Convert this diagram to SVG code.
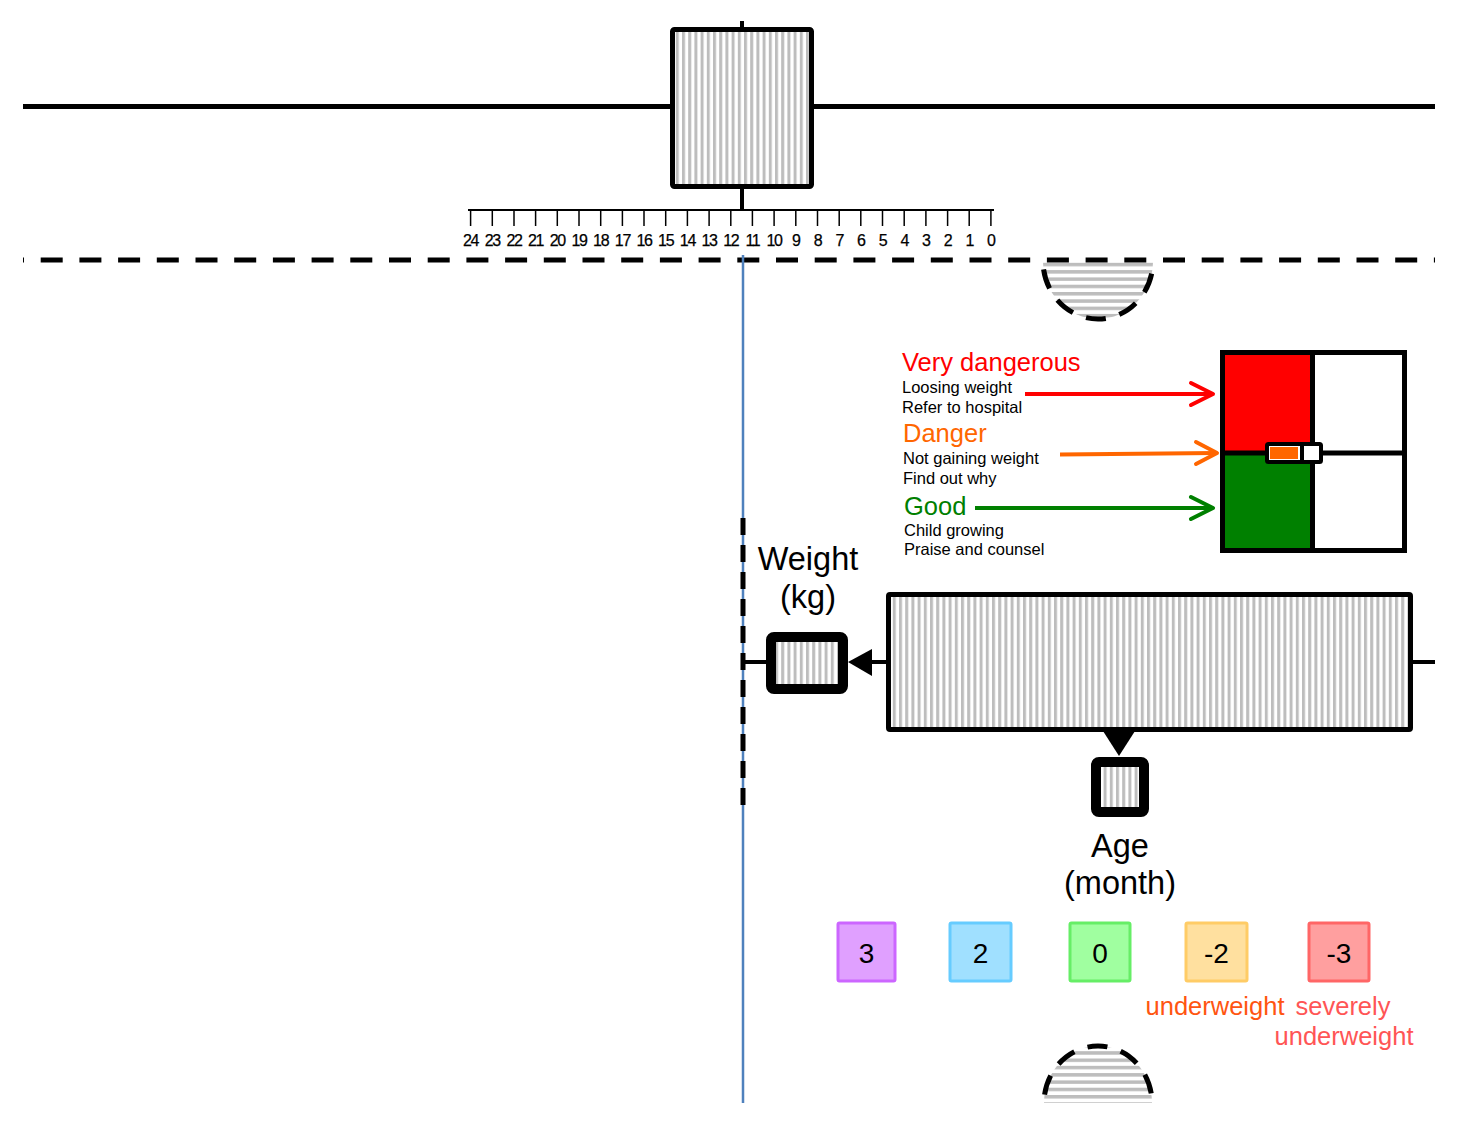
<svg xmlns="http://www.w3.org/2000/svg" width="1457" height="1125" viewBox="0 0 1457 1125">
<style>
text{font-family:"Liberation Sans",Arial,sans-serif;}
.blk{stroke:#000;fill:none;}
.tick{stroke:#000;stroke-width:1.5;}
.rl{font-size:16px;text-anchor:middle;fill:#000;letter-spacing:-1.3px;stroke:#000;stroke-width:0.25px;}
.sm{font-size:16.5px;fill:#000;}
.hd{font-size:25.5px;}
.big{font-size:32.5px;text-anchor:middle;fill:#000;}
.num{font-size:28px;text-anchor:middle;fill:#000;}
.lbl{font-size:25.5px;text-anchor:middle;}
</style>
<defs>
<pattern id="vh" width="6.2" height="10" patternUnits="userSpaceOnUse"><rect width="6.2" height="10" fill="#fff"/><rect width="3" height="10" fill="#bdbdbd"/></pattern>
<pattern id="hh" width="10" height="7.3" patternUnits="userSpaceOnUse"><rect width="10" height="7.3" fill="#fff"/><rect width="10" height="3.5" fill="#bdbdbd"/></pattern>
</defs>
<rect width="1457" height="1125" fill="#fff"/>

<g id="top-rail">
<line x1="23" y1="106.5" x2="1435" y2="106.5" class="blk" stroke-width="5"/>
</g>
<g id="top-box">
<line x1="742" y1="21" x2="742" y2="30" class="blk" stroke-width="4"/>
<line x1="742" y1="186" x2="742" y2="210" class="blk" stroke-width="4"/>
<rect x="672.5" y="29.5" width="139" height="157" fill="url(#vh)" stroke="#000" stroke-width="5" rx="2"/>
</g>
<g id="ruler">
<line x1="468" y1="210" x2="994" y2="210" class="blk" stroke-width="2"/>
<g class="ticks">
<line x1="470.6" y1="210" x2="470.6" y2="226" class="tick"/>
<line x1="492.3" y1="210" x2="492.3" y2="226" class="tick"/>
<line x1="514.0" y1="210" x2="514.0" y2="226" class="tick"/>
<line x1="535.6" y1="210" x2="535.6" y2="226" class="tick"/>
<line x1="557.3" y1="210" x2="557.3" y2="226" class="tick"/>
<line x1="579.0" y1="210" x2="579.0" y2="226" class="tick"/>
<line x1="600.7" y1="210" x2="600.7" y2="226" class="tick"/>
<line x1="622.4" y1="210" x2="622.4" y2="226" class="tick"/>
<line x1="644.0" y1="210" x2="644.0" y2="226" class="tick"/>
<line x1="665.7" y1="210" x2="665.7" y2="226" class="tick"/>
<line x1="687.4" y1="210" x2="687.4" y2="226" class="tick"/>
<line x1="709.1" y1="210" x2="709.1" y2="226" class="tick"/>
<line x1="730.8" y1="210" x2="730.8" y2="226" class="tick"/>
<line x1="752.4" y1="210" x2="752.4" y2="226" class="tick"/>
<line x1="774.1" y1="210" x2="774.1" y2="226" class="tick"/>
<line x1="795.8" y1="210" x2="795.8" y2="226" class="tick"/>
<line x1="817.5" y1="210" x2="817.5" y2="226" class="tick"/>
<line x1="839.2" y1="210" x2="839.2" y2="226" class="tick"/>
<line x1="860.8" y1="210" x2="860.8" y2="226" class="tick"/>
<line x1="882.5" y1="210" x2="882.5" y2="226" class="tick"/>
<line x1="904.2" y1="210" x2="904.2" y2="226" class="tick"/>
<line x1="925.9" y1="210" x2="925.9" y2="226" class="tick"/>
<line x1="947.6" y1="210" x2="947.6" y2="226" class="tick"/>
<line x1="969.2" y1="210" x2="969.2" y2="226" class="tick"/>
<line x1="990.9" y1="210" x2="990.9" y2="226" class="tick"/>
</g>
<g class="rlabels">
<text x="470.6" y="246" class="rl">24</text>
<text x="492.3" y="246" class="rl">23</text>
<text x="514.0" y="246" class="rl">22</text>
<text x="535.6" y="246" class="rl">21</text>
<text x="557.3" y="246" class="rl">20</text>
<text x="579.0" y="246" class="rl">19</text>
<text x="600.7" y="246" class="rl">18</text>
<text x="622.4" y="246" class="rl">17</text>
<text x="644.0" y="246" class="rl">16</text>
<text x="665.7" y="246" class="rl">15</text>
<text x="687.4" y="246" class="rl">14</text>
<text x="709.1" y="246" class="rl">13</text>
<text x="730.8" y="246" class="rl">12</text>
<text x="752.4" y="246" class="rl">11</text>
<text x="774.1" y="246" class="rl">10</text>
<text x="795.8" y="246" class="rl">9</text>
<text x="817.5" y="246" class="rl">8</text>
<text x="839.2" y="246" class="rl">7</text>
<text x="860.8" y="246" class="rl">6</text>
<text x="882.5" y="246" class="rl">5</text>
<text x="904.2" y="246" class="rl">4</text>
<text x="925.9" y="246" class="rl">3</text>
<text x="947.6" y="246" class="rl">2</text>
<text x="969.2" y="246" class="rl">1</text>
<text x="990.9" y="246" class="rl">0</text>
</g>
</g>

<g id="top-bowl">
<path d="M1043,261 A55,58 0 0 0 1153,261 Z" fill="url(#hh)"/>
<path d="M1043,261 A55,58 0 0 0 1153,261" class="blk" stroke-width="5" stroke-dasharray="20 14" stroke-dashoffset="-8.5"/>
</g>
<g id="dashed-rail">
<line x1="23" y1="260" x2="1435" y2="260" class="blk" stroke-width="5" stroke-dasharray="22 16.7" stroke-dashoffset="21"/>
</g>
<g id="bottom-dome">
<path d="M1044,1103 A54,57 0 0 1 1152,1103 Z" fill="url(#hh)"/>
<path d="M1044,1103 A54,57 0 0 1 1152,1103" class="blk" stroke-width="5" stroke-dasharray="20 14" stroke-dashoffset="-8.5"/>
</g>

<g id="blue-line">
<line x1="743" y1="255" x2="743" y2="1103" stroke="#4f81bd" stroke-width="2.5"/>
</g>
<g id="weight-axis">
<line x1="743" y1="518" x2="743" y2="808" class="blk" stroke-width="5" stroke-dasharray="17 10"/>
</g>

<g id="legend-text">
<text x="902" y="371" class="hd" fill="#ff0000">Very dangerous</text>
<text x="902" y="393" class="sm">Loosing weight</text>
<text x="902" y="413" class="sm">Refer to hospital</text>
<text x="903" y="442" class="hd" fill="#ff6600">Danger</text>
<text x="903" y="464" class="sm">Not gaining weight</text>
<text x="903" y="484" class="sm">Find out why</text>
<text x="904" y="515" class="hd" fill="#008000">Good</text>
<text x="904" y="536" class="sm">Child growing</text>
<text x="904" y="555" class="sm">Praise and counsel</text>
</g>

<g id="status-box">
<rect x="1222.5" y="352.5" width="90" height="100" fill="#ff0000"/>
<rect x="1222.5" y="453" width="90" height="98" fill="#008000"/>
<rect x="1222.5" y="352.5" width="182" height="198" fill="none" stroke="#000" stroke-width="5"/>
<line x1="1312.5" y1="352" x2="1312.5" y2="551" class="blk" stroke-width="5"/>
<line x1="1222" y1="453" x2="1405" y2="453" class="blk" stroke-width="5"/>
<rect x="1267" y="444" width="54" height="18" fill="#fff" stroke="#000" stroke-width="4" rx="1.5"/>
<rect x="1270" y="447" width="28" height="12" fill="#ff6600"/>
<line x1="1302" y1="444" x2="1302" y2="462" class="blk" stroke-width="4"/>
</g>

<g id="weight-box">
<rect x="771" y="637" width="72" height="52" rx="3" fill="url(#vh)" stroke="#000" stroke-width="10"/>
</g>
<g id="weight-label">
<text x="808" y="570" class="big">Weight</text>
<text x="808" y="608" class="big">(kg)</text>
</g>

<g id="main-box">
<rect x="888.5" y="594.5" width="522" height="135" fill="url(#vh)" stroke="#000" stroke-width="5" rx="1.5"/>
</g>

<g id="age-box">
<rect x="1096" y="762" width="48" height="50" rx="3" fill="url(#vh)" stroke="#000" stroke-width="10"/>
</g>
<g id="age-label">
<text x="1120" y="857" class="big">Age</text>
<text x="1120" y="894" class="big">(month)</text>
</g>

<g id="connectors">
<line x1="1025" y1="394" x2="1212" y2="394" stroke="#ff0000" stroke-width="4"/>
<polyline points="1191,383 1213,394 1191,405" fill="none" stroke="#ff0000" stroke-width="4" stroke-linecap="round" stroke-linejoin="round"/>
<line x1="1060" y1="454.5" x2="1216" y2="453" stroke="#ff6600" stroke-width="4"/>
<polyline points="1196,442 1217,453 1196,464" fill="none" stroke="#ff6600" stroke-width="4" stroke-linecap="round" stroke-linejoin="round"/>
<line x1="975" y1="508" x2="1212" y2="508" stroke="#008000" stroke-width="4"/>
<polyline points="1191,497 1213,508 1191,519" fill="none" stroke="#008000" stroke-width="4" stroke-linecap="round" stroke-linejoin="round"/>
<line x1="1321" y1="453" x2="1330" y2="453" class="blk" stroke-width="4"/>
<line x1="743" y1="662" x2="767" y2="662" class="blk" stroke-width="4"/>
<line x1="870" y1="662" x2="887" y2="662" class="blk" stroke-width="4"/>
<polygon points="848,662 872,649 872,676" fill="#000"/>
<line x1="1409" y1="662" x2="1435" y2="662" class="blk" stroke-width="4"/>
<polygon points="1103,731 1135,731 1119,756" fill="#000"/>
</g>

<g id="z-scores">
<g id="z3"><rect x="838" y="923" width="57" height="58" rx="1.5" fill="#e0a0ff" stroke="#cc66ff" stroke-width="3"/><text x="866.5" y="963" class="num">3</text></g>
<g id="z2"><rect x="950" y="923" width="61" height="58" rx="1.5" fill="#a0e0ff" stroke="#66ccff" stroke-width="3"/><text x="980.5" y="963" class="num">2</text></g>
<g id="z0"><rect x="1070" y="923" width="60" height="58" rx="1.5" fill="#a0ffa0" stroke="#66ee66" stroke-width="3"/><text x="1100" y="963" class="num">0</text></g>
<g id="zm2"><rect x="1186" y="923" width="61" height="58" rx="1.5" fill="#ffe09f" stroke="#ffcc66" stroke-width="3"/><text x="1216.5" y="963" class="num">-2</text></g>
<g id="zm3"><rect x="1309" y="923" width="60" height="58" rx="1.5" fill="#ff9f9f" stroke="#ff6666" stroke-width="3"/><text x="1339" y="963" class="num">-3</text></g>
<text x="1215" y="1015" class="lbl" fill="#ff5511">underweight</text>
<text x="1343" y="1015" class="lbl" fill="#ff5555">severely</text>
<text x="1344" y="1045" class="lbl" fill="#ff5555">underweight</text>
</g>
</svg>
